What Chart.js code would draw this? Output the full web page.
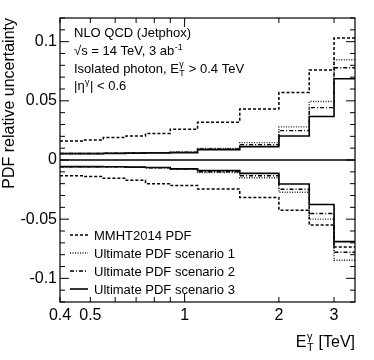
<!DOCTYPE html>
<html>
<head>
<meta charset="utf-8">
<style>
  html, body { margin: 0; padding: 0; background: #fff; }
  canvas { display: block; }
</style>
</head>
<body>
<canvas id="pdf-unc" width="374" height="360"></canvas>
<script src="https://cdn.jsdelivr.net/npm/chart.js@4.4.0/dist/chart.umd.min.js"></script>
<script>
  const FONT = '"Liberation Sans", Arial, Helvetica, sans-serif';

  // E_T^gamma bin edges [TeV]
  const binEdges = [0.4, 0.475, 0.55, 0.65, 0.75, 0.9, 1.1, 1.5, 2.0, 2.5, 3.0, 3.5];

  // relative uncertainty per bin (upper / lower)
  const mmhtUp   = [0.016, 0.017, 0.019, 0.0203, 0.0224, 0.026, 0.032, 0.043, 0.057, 0.076, 0.103];
  const mmhtDown = [-0.0133, -0.014, -0.0155, -0.0172, -0.0200, -0.0215, -0.0246, -0.0316, -0.0424, -0.055, -0.0735];
  const scen1Up   = [0.0055, 0.0055, 0.0057, 0.006, 0.0062, 0.0066, 0.0097, 0.0147, 0.028, 0.0494, 0.0847];
  const scen1Down = [-0.0057, -0.0057, -0.0058, -0.0062, -0.0066, -0.0078, -0.0107, -0.015, -0.0272, -0.050, -0.0847];
  const scen2Up   = [0.0055, 0.0055, 0.0057, 0.006, 0.0062, 0.0065, 0.0093, 0.013, 0.0248, 0.0443, 0.078];
  const scen2Down = [-0.0057, -0.0057, -0.0058, -0.0062, -0.0065, -0.0077, -0.0099, -0.0133, -0.0247, -0.0452, -0.078];
  const scen3Up   = [0.0054, 0.0054, 0.0056, 0.0058, 0.006, 0.0062, 0.0088, 0.0113, 0.0203, 0.0367, 0.0686];
  const scen3Down = [-0.0056, -0.0056, -0.0057, -0.006, -0.0064, -0.0075, -0.009, -0.0113, -0.0203, -0.0376, -0.069];

  const seriesNames = ['MMHT2014 PDF', 'Ultimate PDF scenario 1', 'Ultimate PDF scenario 2', 'Ultimate PDF scenario 3'];

  // axis ticks
  const xTicks = [0.4, 0.5, 0.6, 0.7, 0.8, 0.9, 1, 2, 3];
  const xLabelled = [0.4, 0.5, 1, 2, 3];
  const yTicks = [-0.12, -0.11, -0.1, -0.09, -0.08, -0.07, -0.06, -0.05, -0.04, -0.03, -0.02, -0.01, 0,
                  0.01, 0.02, 0.03, 0.04, 0.05, 0.06, 0.07, 0.08, 0.09, 0.1, 0.11, 0.12];
  const yLabelled = [-0.1, -0.05, 0, 0.05, 0.1];

  const styles = [
    { dash: [3, 2], width: 1.5, color: '#000' },
    { dash: [1, 1.5], width: 1.4, color: '#222' },
    { dash: [4, 2, 1, 2], width: 1.4, color: '#000' },
    { dash: [], width: 1.6, color: '#000' }
  ];

  const stepData = (vals) => binEdges.map((x, i) => ({ x: x, y: vals[Math.min(i, vals.length - 1)] }));

  const pairs = [[mmhtUp, mmhtDown], [scen1Up, scen1Down], [scen2Up, scen2Down], [scen3Up, scen3Down]];
  const datasets = [];
  pairs.forEach((p, k) => {
    p.forEach((vals) => {
      datasets.push({
        label: seriesNames[k],
        data: stepData(vals),
        stepped: 'before',
        borderColor: styles[k].color,
        borderWidth: styles[k].width,
        borderDash: styles[k].dash,
        pointRadius: 0,
        fill: false
      });
    });
  });

  // text with sub/superscripts: parts are strings or {sub, sup}
  function drawRich(ctx, parts, x, y, size, align) {
    const base = size + 'px ' + FONT;
    const small = (size * 0.68) + 'px ' + FONT;
    const widthOf = (p) => {
      if (typeof p === 'string') { ctx.font = base; return ctx.measureText(p).width; }
      ctx.font = small;
      return Math.max(p.sub ? ctx.measureText(p.sub).width : 0, p.sup ? ctx.measureText(p.sup).width : 0) + 1;
    };
    const total = parts.reduce((s, p) => s + widthOf(p), 0);
    let cx = align === 'right' ? x - total : x;
    ctx.textAlign = 'left';
    ctx.textBaseline = 'alphabetic';
    parts.forEach((p) => {
      const w = widthOf(p);
      if (typeof p === 'string') {
        ctx.font = base;
        ctx.fillText(p, cx, y);
      } else {
        ctx.font = small;
        if (p.sup) ctx.fillText(p.sup, cx + 0.5, y - size * 0.42);
        if (p.sub) ctx.fillText(p.sub, cx + 0.5, y + size * 0.28);
      }
      cx += w;
    });
  }

  const decorations = {
    id: 'decorations',
    afterDatasetsDraw(chart) {
      const { ctx, chartArea: a, scales: { x, y } } = chart;
      ctx.save();
      ctx.strokeStyle = '#000';
      ctx.fillStyle = '#000';
      ctx.setLineDash([]);

      // zero line
      const y0 = y.getPixelForValue(0);
      ctx.lineWidth = 1.6;
      ctx.beginPath();
      ctx.moveTo(a.left, y0);
      ctx.lineTo(a.right, y0);
      ctx.stroke();

      // frame
      ctx.lineWidth = 1.2;
      ctx.strokeRect(a.left, a.top, a.right - a.left, a.bottom - a.top);

      // inward tick marks on all four sides
      ctx.lineWidth = 1;
      ctx.beginPath();
      y.ticks.forEach((t) => {
        const py = y.getPixelForValue(t.value);
        const len = yLabelled.includes(t.value) ? 9 : 5;
        ctx.moveTo(a.left, py); ctx.lineTo(a.left + len, py);
        ctx.moveTo(a.right, py); ctx.lineTo(a.right - len, py);
      });
      x.ticks.forEach((t) => {
        const px = x.getPixelForValue(t.value);
        const len = t.value === 1 ? 9 : 5;
        ctx.moveTo(px, a.bottom); ctx.lineTo(px, a.bottom - len);
        ctx.moveTo(px, a.top); ctx.lineTo(px, a.top + len);
      });
      ctx.stroke();

      // header text
      const tx = a.left + 14;
      drawRich(ctx, ['NLO QCD (Jetphox)'], tx, 37, 13);
      drawRich(ctx, ['\u221As = 14 TeV, 3 ab', { sup: '-1' }], tx, 55, 13);
      drawRich(ctx, ['Isolated photon, E', { sub: 'T', sup: '\u03B3' }, ' > 0.4 TeV'], tx, 72.5, 13);
      drawRich(ctx, ['|\u03B7', { sup: '\u03B3' }, '| < 0.6'], tx, 90, 13);

      // legend
      const legendY = [235, 253, 271, 289];
      styles.forEach((s, k) => {
        const ly = legendY[k];
        ctx.strokeStyle = s.color;
        ctx.lineWidth = s.width;
        ctx.setLineDash(s.dash);
        ctx.beginPath();
        ctx.moveTo(a.left + 10, ly);
        ctx.lineTo(a.left + 28, ly);
        ctx.stroke();
        ctx.setLineDash([]);
        drawRich(ctx, [seriesNames[k]], a.left + 34, ly + 4.5, 13);
      });

      // x-axis title
      drawRich(ctx, ['E', { sub: 'T', sup: '\u03B3' }, ' [TeV]'], a.right, 346.5, 16, 'right');
      ctx.restore();
    }
  };

  const canvas = document.getElementById('pdf-unc').getContext('2d');

  const chart = new Chart(canvas, {
    type: 'line',
    data: { datasets: datasets },
    plugins: [decorations],
    options: {
      responsive: false,
      animation: false,
      devicePixelRatio: 1,
      layout: { padding: { top: 18, right: 19, left: 0, bottom: 0 } },
      plugins: {
        legend: { display: false },
        tooltip: { enabled: false }
      },
      scales: {
        x: {
          type: 'logarithmic',
          min: 0.4,
          max: 3.5,
          grid: { display: false, drawTicks: false },
          border: { display: false },
          afterBuildTicks: (scale) => { scale.ticks = xTicks.map((v) => ({ value: v })); },
          afterFit: (scale) => { scale.height = 58; },
          ticks: {
            autoSkip: false,
            maxRotation: 0,
            minRotation: 0,
            padding: 4,
            color: '#000',
            font: { family: FONT, size: 16 },
            callback: (v) => (xLabelled.includes(v) ? String(v) : '')
          }
        },
        y: {
          type: 'linear',
          min: -0.12,
          max: 0.12,
          grid: { display: false, drawTicks: false },
          border: { display: false },
          afterBuildTicks: (scale) => { scale.ticks = yTicks.map((v) => ({ value: v })); },
          afterFit: (scale) => { scale.width = 60; },
          ticks: {
            autoSkip: false,
            padding: 3,
            color: '#000',
            font: { family: FONT, size: 16 },
            callback: (v) => (yLabelled.includes(v) ? String(v) : '')
          },
          title: {
            display: true,
            text: 'PDF relative uncertainty',
            align: 'end',
            color: '#000',
            padding: 0,
            font: { family: FONT, size: 16 }
          }
        }
      }
    }
  });
</script>
</body>
</html>
